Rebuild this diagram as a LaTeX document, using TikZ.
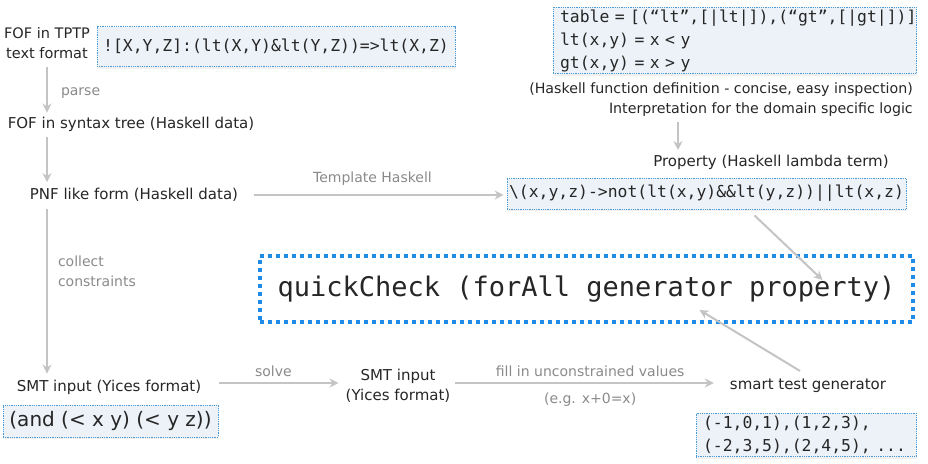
\documentclass[tikz,border=0pt]{standalone}
\usepackage{fontspec}
\setmainfont{DejaVu Sans}
\setmonofont{DejaVu Sans Mono}
\usetikzlibrary{arrows.meta,shadows}
\definecolor{boxfill}{HTML}{EDF2F8}
\definecolor{boxline}{HTML}{4A9AD8}
\definecolor{qcline}{HTML}{1E8CE6}
\definecolor{arr}{HTML}{C4C4C4}
\definecolor{lbl}{HTML}{8A8A8A}
\begin{document}
\begin{tikzpicture}[x=1pt,y=-1pt,
  txt/.style={font=\fontsize{15}{20}\selectfont, inner sep=0pt, text=black!85, align=center},
  lab/.style={font=\fontsize{14}{20}\selectfont, text=lbl, inner sep=0pt, align=left},
  codebox/.style={draw=boxline, densely dotted, line width=0.8pt, fill=boxfill,
     inner sep=0pt, text=black!85, drop shadow={opacity=0.12, shadow xshift=1pt, shadow yshift=-2pt}},
  mono/.style={font=\fontsize{16.4}{23}\ttfamily},
  conn/.style={draw=arr, line width=2pt, -{Stealth[length=9pt,width=9pt]}},
  qcbox/.style={draw=qcline, line width=4pt, dash pattern=on 4pt off 4pt, fill=white,
     inner sep=0pt, font=\fontsize{27}{30}\ttfamily, text=black!85}]
\useasboundingbox (0,0) rectangle (928,463);

% top-left
\node[txt, font=\fontsize{14.5}{20}\selectfont] (tptplab) at (47,43) {FOF in TPTP\\text format};
\node[codebox, mono, minimum width=358, minimum height=40] (tptp) at (276,46.5)
  {![X,Y,Z]:(lt(X,Y)\&lt(Y,Z))=>lt(X,Z)};
\node[txt] (syntax) at (131,124) {FOF in syntax tree (Haskell data)};
\node[txt] (pnf) at (134,195) {PNF like form (Haskell data)};
\node[txt] (smt1) at (109,387) {SMT input (Yices format)};
\node[codebox, font=\fontsize{20}{22}\selectfont, minimum width=215, minimum height=32] (andbox) at (110.5,421)
  {(and (< x y) (< y z))};
\node[txt] (smt2) at (398,386) {SMT input\\(Yices format)};
\node[txt] (gen) at (808,386) {smart test generator};
\node[codebox, mono, text width=206, align=left, inner xsep=7pt, inner ysep=3pt] (tests) at (806,435)
  {(-1,0,1),(1,2,3),\\(-2,3,5),(2,4,5), ...};

% top-right
\node[codebox, mono, text width=349, align=left, inner xsep=7pt, inner ysep=2pt] (table) at (734.5,40.5)
  {table = [(“lt”,[|lt|]),(“gt”,[|gt|])]\\lt(x,y) = x < y\\gt(x,y) = x > y};
\node[txt, font=\fontsize{14.2}{20}\selectfont, align=right] (interp) at (721,100) {(Haskell function definition - concise, easy inspection)\\Interpretation for the domain specific logic};
\node[txt] (prop) at (771,162) {Property (Haskell lambda term)};
\node[codebox, mono, minimum width=399, minimum height=31] (lambda) at (706.5,193.5)
  {\textbackslash(x,y,z)->not(lt(x,y)\&\&lt(y,z))||lt(x,z)};

% center
\node[qcbox, minimum width=653, minimum height=66] (qc) at (586.5,289)
  {quickCheck (forAll generator property)};

% connectors
\draw[conn, shorten <=8pt, shorten >=4pt] (tptplab.south) -- (tptplab.south |- syntax.north)
  node[lab, pos=0.6, right=13pt] {parse};
\draw[conn, shorten <=6pt, shorten >=6pt] (tptplab.south |- syntax.south) -- (tptplab.south |- pnf.north);
\draw[conn, shorten <=7pt, shorten >=6pt] (tptplab.south |- pnf.south) -- (tptplab.south |- smt1.north)
  node[lab, pos=0.39, right=10pt] {collect\\constraints};
\draw[conn, shorten <=16pt, shorten >=3pt] (pnf.east) -- (pnf.east -| lambda.west)
  node[lab, midway, above=9pt] {Template Haskell};
\draw[conn, shorten <=18pt, shorten >=7pt] ([yshift=4pt]smt1.east) -- ([yshift=4pt]smt1.east -| smt2.west)
  node[lab, midway, above=5pt] {solve};
\draw[conn, shorten <=4pt, shorten >=16pt] ([yshift=4pt]smt2.east |- smt1.east) -- ([yshift=4pt]smt1.east -| gen.west)
  node[lab, midway, above=5pt] {fill in unconstrained values}
  node[lab, midway, below=9pt] {(e.g. x+0=x)};
\coordinate (ta) at (678,122);
\coordinate (tb) at (678,150);
\draw[conn] (ta) -- (tb);
\draw[conn] ([xshift=48pt,yshift=-6pt]lambda.south) -- ([xshift=236pt,yshift=9pt]qc.center);
\draw[conn] ([xshift=-8pt,yshift=8pt]gen.north) -- ([xshift=113pt,yshift=14pt]qc.south);
\end{tikzpicture}
\end{document}
